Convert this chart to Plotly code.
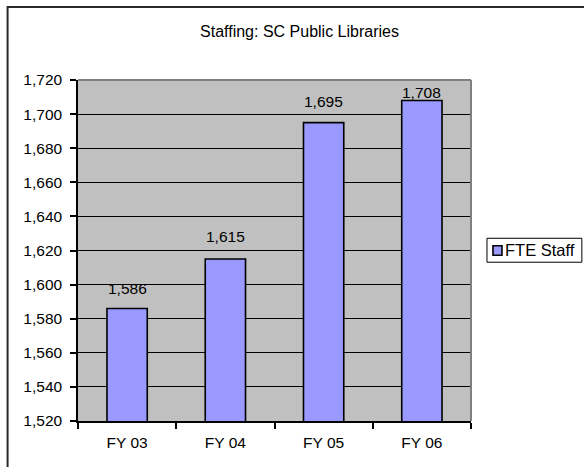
import plotly.graph_objects as go

categories = ["FY 03", "FY 04", "FY 05", "FY 06"]
fte_staff = [1586, 1615, 1695, 1708]
value_labels = ["1,586", "1,615", "1,695", "1,708"]
series_name = "FTE Staff"
y_ticks = list(range(1520, 1721, 20))
y_tick_labels = [f"{v:,}" for v in y_ticks]

W, H = 584, 467
L, R, T, B = 78, 112.5, 80, 45.5
pw, ph = W - L - R, H - T - B

def px_x(p):
    return (p - L) / pw

def px_y(p):
    return (H - B - p) / ph

FONT = "Liberation Sans, Arial, sans-serif"
BAR_COLOR = "#9999FF"

fig = go.Figure()
fig.add_trace(go.Bar(
    x=categories, y=fte_staff, name=series_name,
    marker=dict(color=BAR_COLOR, line=dict(color="black", width=1.6)),
    showlegend=False,
))

label_shifts = [20, 23, 21, 8]
for c, v, t, s in zip(categories, fte_staff, value_labels, label_shifts):
    fig.add_annotation(x=c, y=v, text=t, showarrow=False, yshift=s,
                       yanchor="middle", font=dict(family=FONT, size=15.5, color="black"))

shapes = []
# outer chart frame
shapes.append(dict(type="rect", xref="paper", yref="paper",
                   x0=px_x(7.5), x1=px_x(620), y0=px_y(7), y1=px_y(500),
                   line=dict(color="#2a2a2a", width=2), fillcolor="rgba(0,0,0,0)", layer="below"))
# top and right plot border (grey)
shapes.append(dict(type="line", xref="paper", yref="paper", x0=0, x1=1, y0=1, y1=1,
                   line=dict(color="#808080", width=2)))
shapes.append(dict(type="line", xref="paper", yref="paper", x0=1, x1=1, y0=0, y1=1,
                   line=dict(color="#808080", width=2)))
# legend box
shapes.append(dict(type="rect", xref="paper", yref="paper",
                   x0=px_x(487.5), x1=px_x(582.5), y0=px_y(262.5), y1=px_y(238.5),
                   line=dict(color="black", width=1), fillcolor="white"))
shapes.append(dict(type="rect", xref="paper", yref="paper",
                   x0=px_x(493.5), x1=px_x(502.5), y0=px_y(255.5), y1=px_y(246),
                   line=dict(color="black", width=1.6), fillcolor=BAR_COLOR))
fig.add_annotation(xref="paper", yref="paper", x=px_x(503.5), y=px_y(250.5),
                   xanchor="left", yanchor="middle", showarrow=False, text=series_name,
                   font=dict(family=FONT, size=16.5, color="black"))

fig.update_layout(
    width=W, height=H,
    margin=dict(l=L, r=R, t=T, b=B, pad=0),
    paper_bgcolor="white", plot_bgcolor="#C0C0C0",
    bargap=0.59,
    shapes=shapes,
    title=dict(text="Staffing: SC Public Libraries", x=299.5 / W, xanchor="center",
               y=1 - 31.5 / H, yanchor="middle", yref="container",
               font=dict(family=FONT, size=16, color="black")),
    font=dict(family=FONT, size=15.5, color="black"),
)
fig.update_xaxes(type="category", tickson="boundaries", ticks="outside", ticklen=6,
                 tickcolor="black", tickwidth=1.5, showline=True, linecolor="black",
                 linewidth=1.5, showgrid=False, ticklabelstandoff=7,
                 tickfont=dict(family=FONT, size=15.5, color="black"))
fig.update_yaxes(range=[1520, 1720], tickvals=y_ticks, ticktext=y_tick_labels,
                 ticks="outside", ticklen=6, tickcolor="black", tickwidth=1.5,
                 showline=True, linecolor="black", linewidth=1.5, ticklabelstandoff=5,
                 showgrid=True, gridcolor="black", gridwidth=1, zeroline=False,
                 tickfont=dict(family=FONT, size=15.5, color="black"))

fig.write_html("out.html", config={"displayModeBar": False},
               post_script="document.body.style.margin='0';document.body.style.padding='0';")
